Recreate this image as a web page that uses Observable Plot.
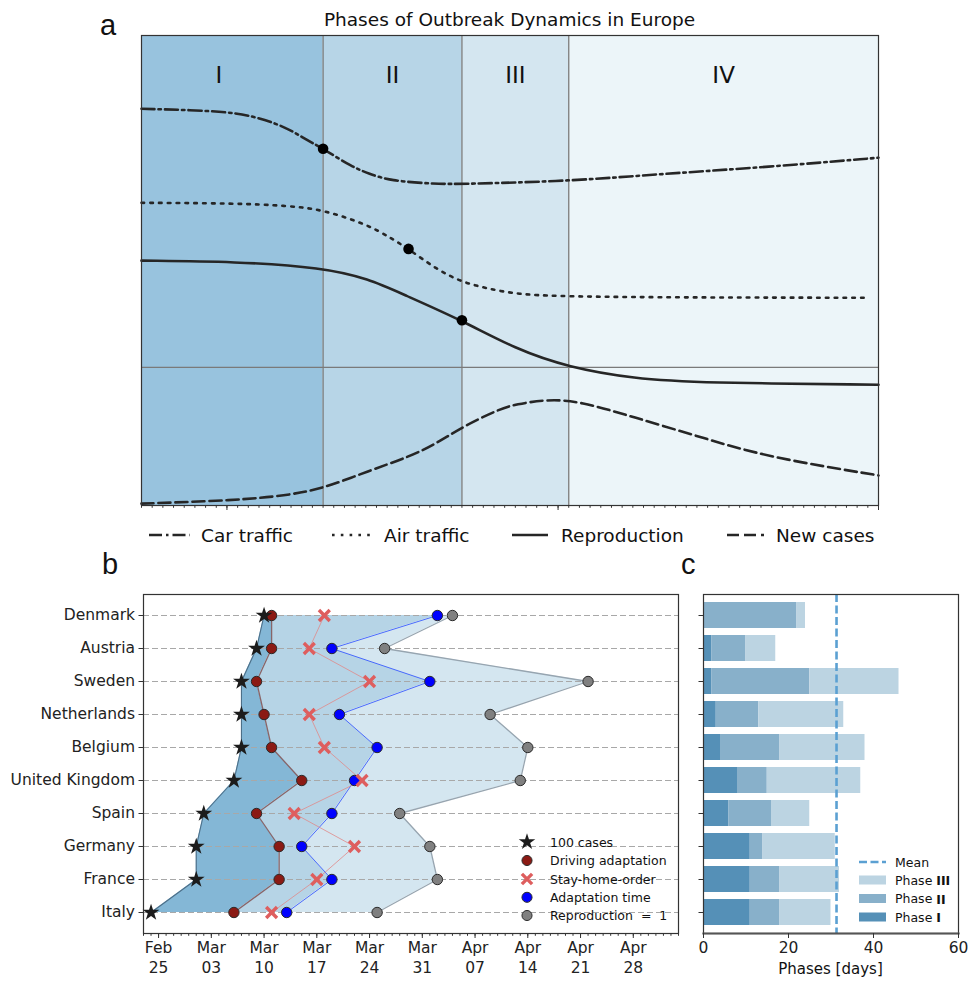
<!DOCTYPE html>
<html><head><meta charset="utf-8">
<script src="https://cdn.jsdelivr.net/npm/d3@7"></script>
<script src="https://cdn.jsdelivr.net/npm/@observablehq/plot@0.6"></script>
<style>
body{margin:0;background:#fff;}
#wrap{position:relative;width:968px;height:981px;overflow:hidden;background:#fff;}
#wrap svg{position:absolute;left:0;top:0;}
</style></head><body><div id="wrap"></div>
<script>
// ---------- Panel a: conceptual phases ----------
const phaseNames = ["I", "II", "III", "IV"];
const phaseStart = ["2020-02-19T12:00Z", "2020-03-10", "2020-03-23", "2020-04-02"];
const phaseEnd = ["2020-03-10", "2020-03-23", "2020-04-02", "2020-05-01"];
const phaseColors = ["#98c3de", "#b7d5e7", "#d4e6f0", "#ecf5f9"];

const carDates = ["2020-02-22","2020-02-29","2020-03-03T10:00Z","2020-03-06T12:00Z","2020-03-08","2020-03-10","2020-03-12T18:00Z","2020-03-14T07:00Z","2020-03-16T05:00Z","2020-03-20T14:00Z","2020-03-23","2020-04-02","2020-04-11","2020-04-20T14:00Z","2020-05-01"];
const carLevel = [0.844,0.840,0.830,0.805,0.784,0.759,0.720,0.706,0.691,0.684,0.684,0.690,0.706,0.720,0.740];

const airDates = ["2020-02-22","2020-03-01T19:00Z","2020-03-06T12:00Z","2020-03-10","2020-03-14T07:00Z","2020-03-16T05:00Z","2020-03-18","2020-03-20T14:00Z","2020-03-23","2020-03-25T13:00Z","2020-03-28","2020-04-02","2020-04-30"];
const airLevel = [0.644,0.643,0.638,0.630,0.596,0.571,0.546,0.503,0.475,0.461,0.450,0.443,0.442];

const reproDates = ["2020-02-22","2020-03-01T19:00Z","2020-03-10","2020-03-14T07:00Z","2020-03-17T10:00Z","2020-03-23","2020-03-28","2020-04-02","2020-04-08T02:00Z","2020-04-14T10:00Z","2020-05-01"];
const reproLevel = [0.521,0.519,0.506,0.482,0.450,0.394,0.333,0.294,0.270,0.261,0.257];

const casesDates = ["2020-02-22","2020-03-01T19:00Z","2020-03-06T12:00Z","2020-03-10","2020-03-14T07:00Z","2020-03-18","2020-03-20T13:00Z","2020-03-23","2020-03-26T14:00Z","2020-03-28","2020-03-31","2020-04-03","2020-04-08T02:00Z","2020-04-14T10:00Z","2020-04-20T14:00Z","2020-05-01"];
const casesLevel = [0.004,0.011,0.021,0.036,0.074,0.103,0.131,0.167,0.206,0.215,0.226,0.222,0.188,0.145,0.103,0.064];

const markerDates = ["2020-03-10","2020-03-18","2020-03-23"];
const markerLevel = [0.759,0.546,0.394];
const reproOneLevel = 0.294;

// ---------- Panel b: country timelines ----------
const countries = ["Denmark","Austria","Sweden","Netherlands","Belgium","United Kingdom","Spain","Germany","France","Italy"];
const cases100   = ["2020-03-10","2020-03-09","2020-03-07","2020-03-07","2020-03-07","2020-03-06","2020-03-02","2020-03-01","2020-03-01","2020-02-24"];
const driving    = ["2020-03-11","2020-03-11","2020-03-09","2020-03-10","2020-03-11","2020-03-15","2020-03-09","2020-03-12","2020-03-12","2020-03-06"];
const stayHome   = ["2020-03-18","2020-03-16","2020-03-24","2020-03-16","2020-03-18","2020-03-23","2020-03-14","2020-03-22","2020-03-17","2020-03-11"];
const adaptation = ["2020-04-02","2020-03-19","2020-04-01","2020-03-20","2020-03-25","2020-03-22","2020-03-19","2020-03-15","2020-03-19","2020-03-13"];
const repro1     = ["2020-04-04","2020-03-26","2020-04-22","2020-04-09","2020-04-14","2020-04-13","2020-03-28","2020-04-01","2020-04-02","2020-03-25"];

// ---------- Panel c: phase durations (cumulative ends, days) ----------
const phaseIEnd   = [0, 2, 2, 3, 4, 8, 6, 11, 11, 11];
const phaseIIEnd  = [22, 10, 25, 13, 18, 15, 16, 14, 18, 18];
const phaseIIIEnd = [24, 17, 46, 33, 38, 37, 25, 31, 32, 30];
const barPhaseLabels = ["Phase I", "Phase II", "Phase III"];
const barPhaseColors = ["#5590b7", "#88b0ca", "#bcd4e2"];

// =====================================================
const W = 968, H = 981;
const FONT = "DejaVu Sans, sans-serif";
const wrap = document.getElementById("wrap");
const D = s => new Date(s);
const baseStyle = {background: "transparent", fontFamily: FONT, color: "#222", overflow: "visible"};

// ---- Panel a
const phaseTable = phaseNames.map((n, i) => ({name: n, start: D(phaseStart[i]), end: D(phaseEnd[i]), color: phaseColors[i]}));
const series = (dates, ys) => dates.map((d, i) => ({date: D(d), y: ys[i]}));
const lineBase = {x: "date", y: "y", curve: "basis", stroke: "#262626", strokeWidth: 2.6};
const aStart = D("2020-02-22"), aEnd = D("2020-05-01");

const pa = Plot.plot({
  width: W, height: H,
  marginLeft: 141, marginRight: W - 878, marginTop: 35, marginBottom: H - 505,
  style: baseStyle,
  x: {type: "utc", domain: [aStart, aEnd], axis: null},
  y: {domain: [0, 1], axis: null},
  color: {type: "identity"},
  marks: [
    Plot.rect(phaseTable, {x1: "start", x2: "end", fill: "color", clip: true}),
    Plot.ruleX(phaseTable.slice(1), {x: "start", stroke: "#7a7a7a", strokeWidth: 1.3}),
    Plot.ruleY([reproOneLevel], {stroke: "#7a7a7a", strokeWidth: 1.3}),
    Plot.line(series(carDates, carLevel), {...lineBase, strokeDasharray: "13,4,2.5,4"}),
    Plot.line(series(airDates, airLevel), {...lineBase, strokeDasharray: "2.6,6.2"}),
    Plot.line(series(reproDates, reproLevel), {...lineBase}),
    Plot.line(series(casesDates, casesLevel), {...lineBase, strokeDasharray: "12,5"}),
    Plot.dot(series(markerDates, markerLevel), {x: "date", y: "y", r: 5.3, fill: "#000"}),
    Plot.text(phaseTable, {x: d => new Date((+d.start + +d.end) / 2), text: "name", frameAnchor: "top", dy: 31, fontSize: 23, fill: "#111"}),
    Plot.frame({stroke: "#333", strokeWidth: 1.2}),
    Plot.axisX(d3.utcDay.range(aStart, d3.utcDay.offset(aEnd, 1)), {tickSize: 2.8, tickFormat: () => "", label: null, stroke: "#333"}),
    Plot.axisX(d3.utcMonth.range(aStart, d3.utcDay.offset(aEnd, 1)), {tickSize: 5, tickFormat: () => "", label: null, stroke: "#333"})
  ]
});
wrap.appendChild(pa);

// ---- Panel b
const rows = countries.map((c, i) => ({
  country: c, c100: D(cases100[i]), drive: D(driving[i]), stay: D(stayHome[i]), adapt: D(adaptation[i]), r1: D(repro1[i])
}));
const bStart = D("2020-02-23"), bEnd = D("2020-05-04");
const dotBase = {y: "country", r: 5.2, stroke: "#2a2a2a", strokeWidth: 1};
const pb = Plot.plot({
  width: W, height: H,
  marginLeft: 143, marginRight: W - 678, marginTop: 594, marginBottom: H - 933,
  style: baseStyle,
  x: {type: "utc", domain: [bStart, bEnd], axis: null},
  y: {type: "point", domain: countries, padding: 0.5, axis: null},
  marks: [
    Plot.areaX(rows, {y: "country", x1: "adapt", x2: "r1", fill: "#d4e6f0"}),
    Plot.areaX(rows, {y: "country", x1: "drive", x2: "adapt", fill: "#b6d4e6"}),
    Plot.areaX(rows, {y: "country", x1: "c100", x2: "drive", fill: "#84b7d6"}),
    Plot.ruleY(countries, {stroke: "#a8a8a8", strokeDasharray: "6,3", strokeWidth: 1}),
    Plot.line(rows, {x: "r1", y: "country", stroke: "#97a5b0", strokeWidth: 1.3}),
    Plot.line(rows, {x: "adapt", y: "country", stroke: "#3355ff", strokeOpacity: 0.85, strokeWidth: 1}),
    Plot.line(rows, {x: "stay", y: "country", stroke: "#e08a8a", strokeOpacity: 0.8, strokeWidth: 1}),
    Plot.line(rows, {x: "drive", y: "country", stroke: "#7d4848", strokeOpacity: 0.8, strokeWidth: 1.3}),
    Plot.line(rows, {x: "c100", y: "country", stroke: "#4d6f88", strokeWidth: 1.1}),
    Plot.dot(rows, {x: "r1", ...dotBase, fill: "#808080"}),
    Plot.dot(rows, {x: "adapt", ...dotBase, fill: "#0000ff"}),
    Plot.dot(rows, {x: "stay", y: "country", symbol: "times", r: 5, stroke: "#de5e5e", strokeWidth: 3.4}),
    Plot.dot(rows, {x: "drive", ...dotBase, fill: "#8b1a14"}),
    Plot.dot(rows, {x: "c100", y: "country", symbol: "star", r: 5.3, fill: "#1c1c1c"}),
    Plot.frame({stroke: "#333", strokeWidth: 1.2}),
    Plot.axisY({tickSize: 4.5, tickPadding: 4, fontSize: 15.5, label: null, stroke: "#333"}),
    Plot.axisX(d3.utcDay.range(bStart, d3.utcDay.offset(bEnd, 1)), {tickSize: 2.8, tickFormat: () => "", label: null, stroke: "#333"}),
    Plot.axisX(d3.utcTuesday.range(bStart, bEnd), {tickSize: 5, tickPadding: 1, fontSize: 15.5, lineHeight: 1.25, tickFormat: d3.utcFormat("%b\n%d"), label: null, stroke: "#333"})
  ]
});
wrap.appendChild(pb);

// ---- Panel c
const cbars = [];
countries.forEach((c, i) => {
  const ends = [phaseIEnd[i], phaseIIEnd[i], phaseIIIEnd[i]];
  ends.forEach((e, k) => {
    const s = k === 0 ? 0 : ends[k - 1];
    cbars.push({country: c, phase: barPhaseLabels[k], x1: s, x2: e, color: barPhaseColors[k]});
  });
});
const meanTotal = d3.mean(phaseIIIEnd);
const pc = Plot.plot({
  width: W, height: H,
  marginLeft: 703, marginRight: W - 958, marginTop: 594, marginBottom: H - 933,
  style: baseStyle,
  x: {domain: [0, 60], axis: null},
  y: {type: "band", domain: countries, paddingInner: 0.2, paddingOuter: 0.1, axis: null},
  color: {type: "identity"},
  marks: [
    Plot.barX(cbars, {y: "country", x1: "x1", x2: "x2", fill: "color"}),
    Plot.ruleX([meanTotal], {stroke: "#5ba0d2", strokeWidth: 2.6, strokeDasharray: "8,3.5"}),
    Plot.frame({stroke: "#333", strokeWidth: 1.2}),
    Plot.frame({anchor: "bottom", stroke: "#555", strokeWidth: 2.2}),
    Plot.axisY({tickSize: 4.5, tickFormat: () => "", label: null, stroke: "#333"}),
    Plot.axisX([0, 20, 40, 60], {tickSize: 5, tickPadding: 3, fontSize: 15.5, label: null, stroke: "#333"})
  ]
});
wrap.appendChild(pc);

// ---- Overlay: titles, panel letters, legends
const ov = d3.create("svg").attr("width", W).attr("height", H).attr("viewBox", `0 0 ${W} ${H}`)
  .style("font-family", FONT).style("pointer-events", "none");
const T = (x, y, s, size, opts = {}) => ov.append("text").attr("x", x).attr("y", y).attr("font-size", size)
  .attr("fill", opts.fill || "#111").attr("text-anchor", opts.anchor || "start")
  .attr("font-family", opts.family || FONT).attr("dominant-baseline", opts.baseline || "auto").text(s);

// panel letters and title
T(100, 35, "a", 29, {family: "Liberation Sans, Arial, sans-serif"});
T(102, 574, "b", 29, {family: "Liberation Sans, Arial, sans-serif"});
T(681, 574, "c", 29, {family: "Liberation Sans, Arial, sans-serif"});
T(509.5, 26, "Phases of Outbreak Dynamics in Europe", 18.5, {anchor: "middle"});

// legend a
const legA = [
  {label: "Car traffic", dash: "13,4,2.5,4", x0: 149, x1: 190, tx: 201},
  {label: "Air traffic", dash: "2.6,6.2", x0: 332, x1: 372, tx: 384},
  {label: "Reproduction", dash: null, x0: 512, x1: 548, tx: 561},
  {label: "New cases", dash: "12,5", x0: 727, x1: 764, tx: 776}
];
legA.forEach(e => {
  const l = ov.append("line").attr("x1", e.x0).attr("x2", e.x1).attr("y1", 535).attr("y2", 535)
    .attr("stroke", "#262626").attr("stroke-width", 2.6);
  if (e.dash) l.attr("stroke-dasharray", e.dash);
  T(e.tx, 535, e.label, 18.5, {baseline: "central"});
});

// legend b
const legB = [
  {label: "100 cases", sym: d3.symbolStar, size: 85, fill: "#1c1c1c", stroke: "none"},
  {label: "Driving adaptation", sym: d3.symbolCircle, size: 80, fill: "#8b1a14", stroke: "#2a2a2a"},
  {label: "Stay-home-order", sym: d3.symbolTimes, size: 70, fill: "none", stroke: "#de5e5e", sw: 3.4},
  {label: "Adaptation time", sym: d3.symbolCircle, size: 80, fill: "#0000ff", stroke: "#2a2a2a"},
  {label: "Reproduction  =  1", sym: d3.symbolCircle, size: 80, fill: "#808080", stroke: "#2a2a2a"}
];
const legBY = [842, 860.5, 879, 897.3, 915.5];
legB.forEach((e, i) => {
  ov.append("path").attr("d", d3.symbol(e.sym, e.size)()).attr("transform", `translate(527,${legBY[i]})`)
    .attr("fill", e.fill).attr("stroke", e.stroke).attr("stroke-width", e.sw || 1);
  T(550, legBY[i], e.label, 12.5, {baseline: "central"}).style("white-space", "pre");
});

// legend c
ov.append("line").attr("x1", 859).attr("x2", 886).attr("y1", 862).attr("y2", 862)
  .attr("stroke", "#5ba0d2").attr("stroke-width", 2.6).attr("stroke-dasharray", "8,3.5");
T(895, 862, "Mean", 12.5, {baseline: "central"});
const legC = [{k: 2, y: 880}, {k: 1, y: 898.5}, {k: 0, y: 917}];
legC.forEach(e => {
  ov.append("rect").attr("x", 859).attr("y", e.y - 4.5).attr("width", 27).attr("height", 9).attr("fill", barPhaseColors[e.k]);
  const t = T(895, e.y, "Phase ", 12.5, {baseline: "central"}).style("white-space", "pre");
  t.append("tspan").attr("font-weight", "bold").text(["I", "II", "III"][e.k]);
});

// panel c axis title
T(830.5, 974, "Phases [days]", 15, {anchor: "middle"});

wrap.appendChild(ov.node());
</script></body></html>
